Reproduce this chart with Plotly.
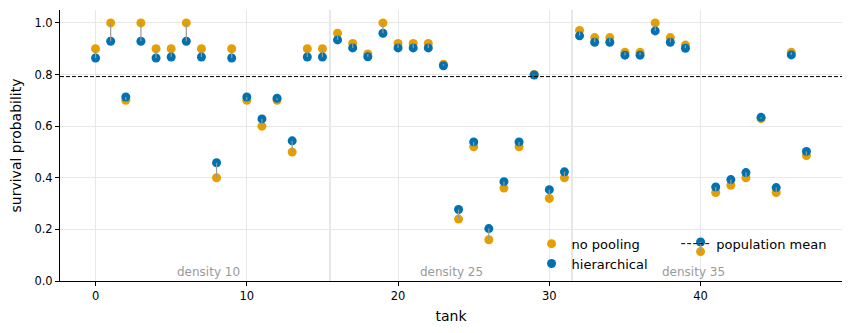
import plotly.graph_objects as go

tanks = list(range(48))
no_pooling = [0.9, 1.0, 0.7, 1.0, 0.9, 0.9, 1.0, 0.9, 0.4, 0.9, 0.7, 0.6, 0.7, 0.5, 0.9, 0.9,
              0.96, 0.92, 0.88, 1.0, 0.92, 0.92, 0.92, 0.84, 0.24, 0.52, 0.16, 0.36, 0.52, 0.8, 0.32, 0.4,
              0.971, 0.943, 0.943, 0.886, 0.886, 1.0, 0.943, 0.914, 0.114, 0.343, 0.371, 0.4, 0.629, 0.343, 0.886, 0.486]
hierarchical = [0.864, 0.929, 0.713, 0.929, 0.864, 0.868, 0.929, 0.868, 0.458, 0.864, 0.713, 0.628, 0.708, 0.543, 0.868, 0.868,
                0.934, 0.903, 0.869, 0.960, 0.903, 0.903, 0.903, 0.834, 0.277, 0.539, 0.203, 0.385, 0.539, 0.798, 0.354, 0.423,
                0.950, 0.925, 0.925, 0.875, 0.875, 0.969, 0.925, 0.902, 0.151, 0.364, 0.393, 0.420, 0.634, 0.362, 0.876, 0.502]
population_mean = 0.792
boundaries = [15.5, 31.5]
density_labels = ["density 10", "density 25", "density 35"]
density_centers = [7.5, 23.5, 39.5]
x_range = [-2.35, 49.35]
y_range = [0, 1.05]

ORANGE = "#E69F00"
BLUE = "#0072B2"

fig = go.Figure()

fig.add_trace(go.Scatter(x=tanks, y=no_pooling, mode="markers", name="no pooling",
                         marker=dict(color=ORANGE, size=9, line=dict(width=0)),
                         legend="legend", legendrank=1))
fig.add_trace(go.Scatter(x=tanks, y=hierarchical, mode="markers", name="hierarchical",
                         marker=dict(color=BLUE, size=9, line=dict(width=0)),
                         legend="legend", legendrank=2))

seg_x, seg_y = [], []
for t, a, b in zip(tanks, no_pooling, hierarchical):
    seg_x += [t, t, None]
    seg_y += [a, b, None]
fig.add_trace(go.Scatter(x=seg_x, y=seg_y, mode="lines", showlegend=False,
                         line=dict(color="#9a9a9a", width=1.2), hoverinfo="skip"))

fig.add_trace(go.Scatter(x=x_range, y=[population_mean, population_mean], mode="lines",
                         name="population mean", line=dict(color="black", width=1, dash="4px,2px"),
                         legend="legend2"))

for b in boundaries:
    fig.add_vline(x=b, line=dict(color="#cfcfcf", width=1), layer="below")

for lbl, c in zip(density_labels, density_centers):
    fig.add_annotation(x=c, y=0.033, text=lbl, showarrow=False, xanchor="center", yanchor="middle",
                       font=dict(size=12, color="#9a9a9a"))

fig.update_layout(
    width=851, height=333,
    margin=dict(l=60, r=9, t=10, b=52),
    plot_bgcolor="white", paper_bgcolor="white",
    font=dict(family="DejaVu Sans", size=12, color="black"),
    legend=dict(x=0.603, y=0.193, xanchor="left", yanchor="top", bgcolor="rgba(0,0,0,0)",
                font=dict(size=13), tracegroupgap=0),
    legend2=dict(x=0.788, y=0.193, xanchor="left", yanchor="top", bgcolor="rgba(0,0,0,0)",
                 font=dict(size=13)),
)
fig.update_xaxes(range=x_range, tickvals=[0, 10, 20, 30, 40], showgrid=True, gridcolor="#e8e8e8",
                 gridwidth=1, zeroline=False, showline=True, linecolor="black", linewidth=1,
                 ticks="outside", ticklen=4, tickcolor="black", tickfont=dict(size=11.5),
                 title=dict(text="tank", font=dict(size=14), standoff=9))
fig.update_yaxes(range=y_range, tickvals=[0, 0.2, 0.4, 0.6, 0.8, 1.0], tickformat=".1f",
                 showgrid=True, gridcolor="#e8e8e8", gridwidth=1, zeroline=False,
                 showline=True, linecolor="black", linewidth=1,
                 ticks="outside", ticklen=4, tickcolor="black", tickfont=dict(size=11.5),
                 title=dict(text="survival probability", font=dict(size=14), standoff=9))

fig.write_html("out.html")
